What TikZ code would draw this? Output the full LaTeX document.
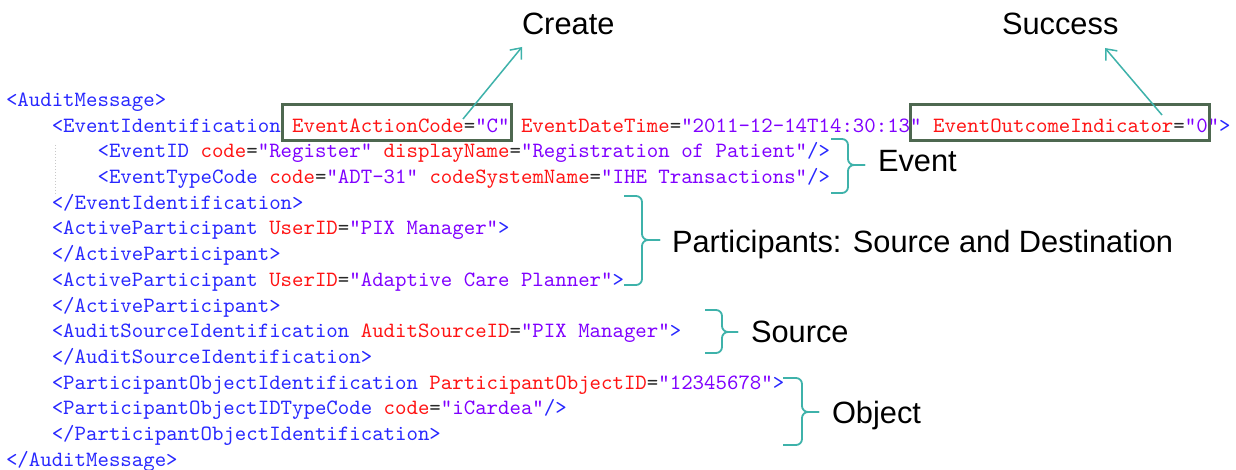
\documentclass[tikz,border=0pt]{standalone}
\usepackage{fontspec}
\setmainfont{Liberation Sans}
\setmonofont{lmmono10-regular.otf}
\usetikzlibrary{arrows.meta}
\definecolor{tagc}{RGB}{40,40,255}
\definecolor{attc}{RGB}{255,20,20}
\definecolor{valc}{RGB}{128,0,255}
\definecolor{eqc}{RGB}{40,40,40}
\definecolor{tealc}{RGB}{62,178,170}
\definecolor{boxg}{RGB}{78,104,80}
\definecolor{guidec}{RGB}{200,200,200}
\newcommand{\Tg}[1]{\textcolor{tagc}{#1}}
\newcommand{\At}[2]{\textcolor{attc}{#1}\textcolor{eqc}{=}\textcolor{valc}{"#2"}}
\tikzset{
  codeline/.style={anchor=base west, inner sep=0pt, outer sep=0pt, font=\ttfamily\fontsize{21.8}{25.7}\selectfont},
  lbl/.style={anchor=base west, inner sep=0pt, outer sep=0pt, font=\fontsize{30.8}{36}\selectfont, text=black},
  hbox/.style={draw=boxg, line width=3.4pt, anchor=north west, inner sep=0pt},
  brc/.style={draw=tealc, line width=1.8pt, rounded corners=6pt},
  arr/.style={draw=tealc, line width=1.5pt, -{Straight Barb[length=9pt,width=15pt]}},
  guide/.style={draw=guidec, line width=1pt, dotted}
}
\begin{document}
\begin{tikzpicture}[x=1pt, y=-1pt]
\fill[white] (0,0) rectangle (1236,470);
\useasboundingbox (0,0) rectangle (1236,470);
% indent guide
\draw[guide] (55,145) -- (55,196);
% code lines
\node[codeline] (l1)  at (6,106.5)    {\Tg{<AuditMessage>}};
\node[codeline] (l2)  at (51.8,132.2) {\Tg{<EventIdentification} \At{EventActionCode}{C} \At{EventDateTime}{2011-12-14T14:30:13} \At{EventOutcomeIndicator}{0}\Tg{>}};
\node[codeline] (l3)  at (97.6,157.9) {\Tg{<EventID} \At{code}{Register} \At{displayName}{Registration of Patient}\Tg{/>}};
\node[codeline] (l4)  at (97.6,183.6) {\Tg{<EventTypeCode} \At{code}{ADT-31} \At{codeSystemName}{IHE Transactions}\Tg{/>}};
\node[codeline] (l5)  at (51.8,209.3) {\Tg{</EventIdentification>}};
\node[codeline] (l6)  at (51.8,235.0) {\Tg{<ActiveParticipant} \At{UserID}{PIX Manager}\Tg{>}};
\node[codeline] (l7)  at (51.8,260.7) {\Tg{</ActiveParticipant>}};
\node[codeline] (l8)  at (51.8,286.4) {\Tg{<ActiveParticipant} \At{UserID}{Adaptive Care Planner}\Tg{>}};
\node[codeline] (l9)  at (51.8,312.1) {\Tg{</ActiveParticipant>}};
\node[codeline] (l10) at (51.8,337.8) {\Tg{<AuditSourceIdentification} \At{AuditSourceID}{PIX Manager}\Tg{>}};
\node[codeline] (l11) at (51.8,363.5) {\Tg{</AuditSourceIdentification>}};
\node[codeline] (l12) at (51.8,389.2) {\Tg{<ParticipantObjectIdentification} \At{ParticipantObjectID}{12345678}\Tg{>}};
\node[codeline] (l13) at (51.8,414.9) {\Tg{<ParticipantObjectIDTypeCode} \At{code}{iCardea}\Tg{/>}};
\node[codeline] (l14) at (51.8,440.6) {\Tg{</ParticipantObjectIdentification>}};
\node[codeline] (l15) at (6,466.3)    {\Tg{</AuditMessage>}};
% highlight boxes
\node[hbox, minimum width=229pt, minimum height=36pt] (box1) at (281,103) {};
\node[hbox, minimum width=299pt, minimum height=36pt] (box2) at (909,103) {};
% labels
\node[lbl] (create)  at (522,35)  {Create};
\node[lbl] (success) at (1002,35) {Success};
\node[lbl] (event)   at (878,172) {Event};
\node[lbl] (parts)   at (672,253) {Participants: Source and Destination};
\node[lbl] (source)  at (751,342) {Source};
\node[lbl] (object)  at (832,423) {Object};
% arrows
\coordinate (c1s) at (463,119);
\coordinate (c1e) at (522,47);
\coordinate (c2s) at (1162,115);
\coordinate (c2e) at (1105,48);
\draw[arr] (c1s) -- (c1e);
\draw[arr] (c2s) -- (c2e);
% braces
\draw[brc] (831,139) -| (848,165) -- (865,165);
\draw[brc] (831,193) -| (848,165) -- (865,165);
\draw[brc] (624,196) -| (642,240) -- (660,240);
\draw[brc] (624,285) -| (642,240) -- (660,240);
\draw[brc] (705,310) -| (722,332) -- (738,332);
\draw[brc] (705,353) -| (722,332) -- (738,332);
\draw[brc] (783,378) -| (802,412) -- (819,412);
\draw[brc] (783,445) -| (802,412) -- (819,412);
\end{tikzpicture}
\end{document}
